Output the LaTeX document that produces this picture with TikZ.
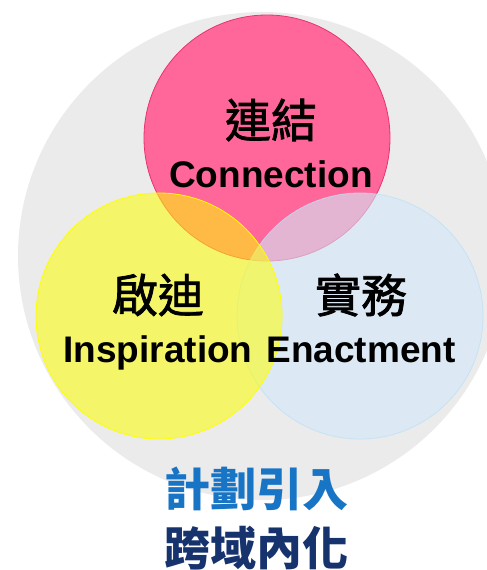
\documentclass[tikz,border=0pt]{standalone}
\usepackage{fontspec}
\setmainfont{Liberation Sans}
\newfontfamily\cjk{Noto Sans CJK TC}
\newfontfamily\cjkmed[FakeBold=1.6]{Noto Sans CJK TC}
\definecolor{bggray}{HTML}{EBEBEB}
\definecolor{pinkfill}{HTML}{FF6699}
\definecolor{pinkline}{HTML}{E8336F}
\definecolor{yelfill}{HTML}{FFFF00}
\definecolor{bluefill}{HTML}{D2E9FA}
\definecolor{blueline}{HTML}{BFE0F5}
\definecolor{midblue}{HTML}{1874C4}
\definecolor{navy}{HTML}{17336E}
\tikzset{
  cjklabel/.style={inner sep=0pt, anchor=center, font=\cjkmed\fontsize{46}{50}\selectfont},
  enlabel/.style={inner sep=0pt, anchor=base, font=\bfseries\fontsize{37}{40}\selectfont},
  venn/.style={circle, minimum size=246pt, inner sep=0pt}
}
\begin{document}
\begin{tikzpicture}[x=1pt,y=-1pt]
\useasboundingbox (0,0) rectangle (487,570);
\begin{scope}
\clip (0,0) rectangle (487,570);
\fill[bggray] (262,256) circle (244);
\end{scope}
\node[venn, fill=pinkfill, draw=pinkline, line width=0.8pt] (conn) at (267,138) {};
\node[venn, fill=bluefill, fill opacity=0.6, draw=blueline, draw opacity=0.8, line width=0.8pt] (enact) at (360,316) {};
\node[venn, fill=yelfill, fill opacity=0.55, draw=yelfill, line width=0.8pt] (insp) at (159,316) {};
\node[cjklabel] (t1) at (271,120) {連結};
\node[enlabel] (e1) at (271,187) {Connection};
\node[cjklabel] (t2) at (158,295) {啟迪};
\node[enlabel] (e2) at (158,362) {Inspiration};
\node[cjklabel] (t3) at (361,295) {實務};
\node[enlabel] (e3) at (361,362) {Enactment};
\node[cjklabel, text=midblue, font=\cjk\bfseries\fontsize{46}{50}\selectfont] (b1) at (256,489) {計劃引入};
\node[cjklabel, text=navy, font=\cjk\bfseries\fontsize{46}{50}\selectfont] (b2) at (256,548) {跨域內化};
\end{tikzpicture}
\end{document}
